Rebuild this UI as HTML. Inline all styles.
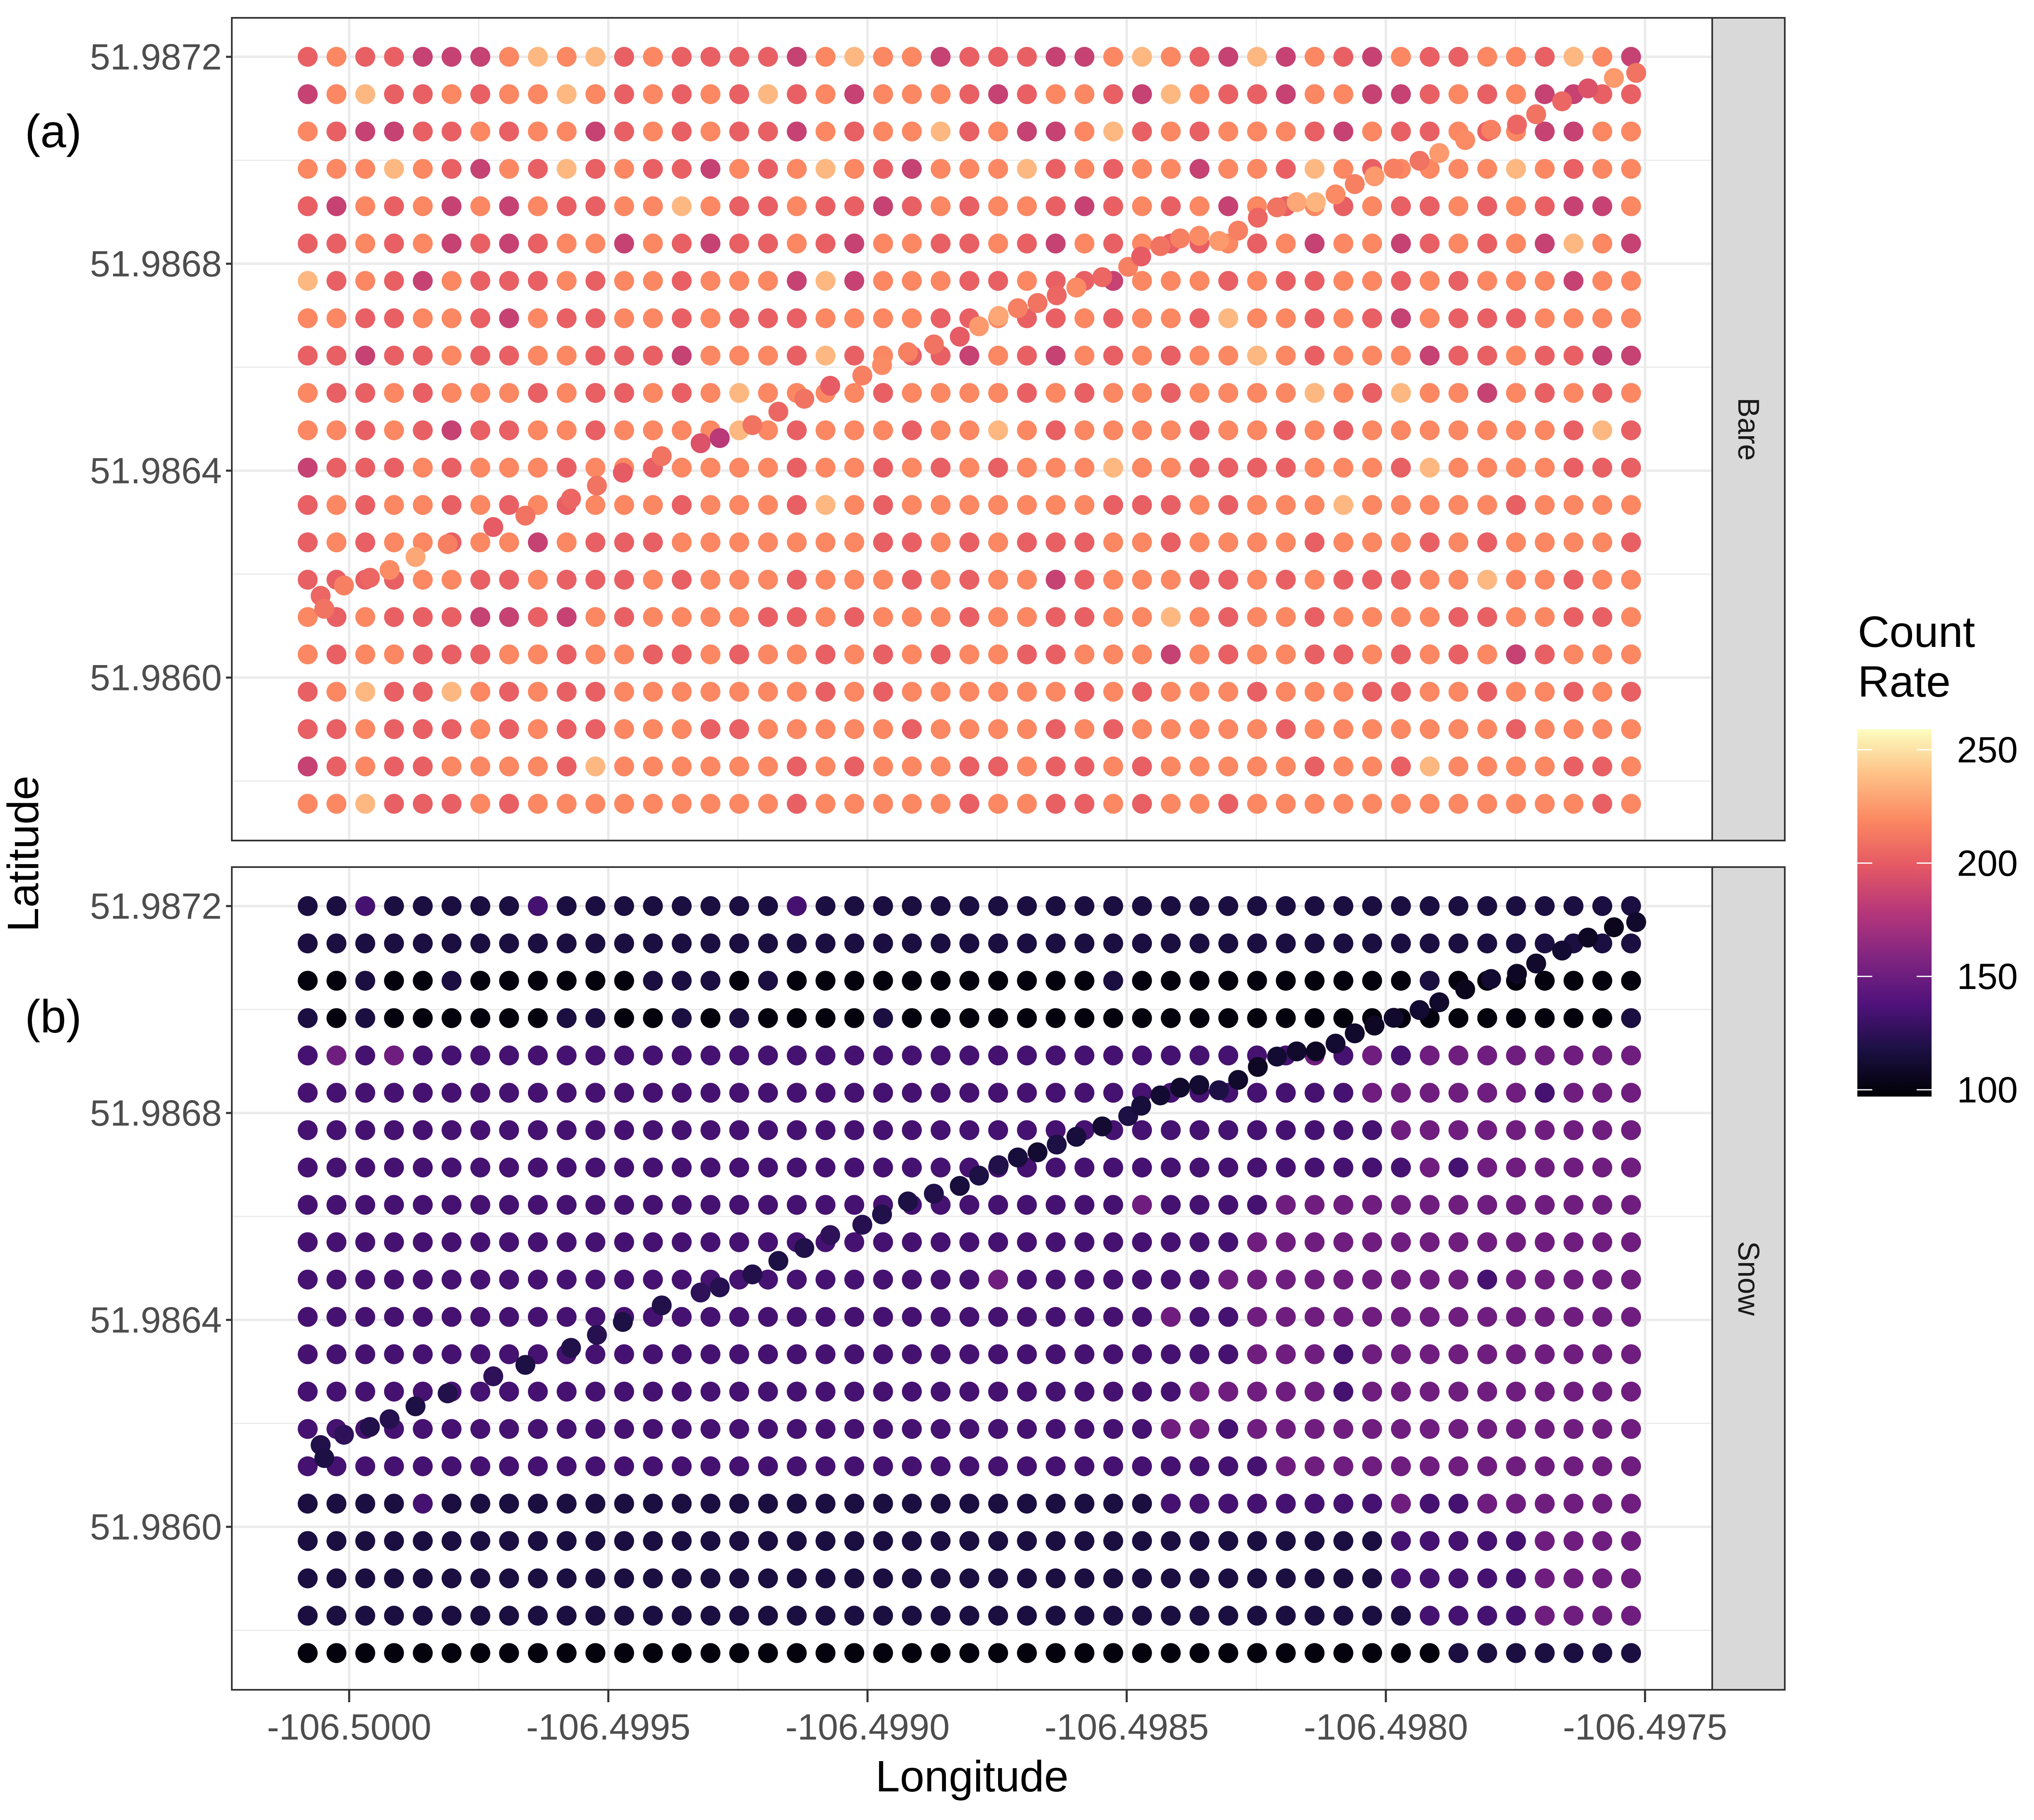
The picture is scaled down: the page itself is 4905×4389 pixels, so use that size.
<!DOCTYPE html>
<html><head><meta charset="utf-8">
<style>
html,body{margin:0;padding:0;background:#fff}
svg{display:block}
text{font-family:"Liberation Sans",Arial,sans-serif}
</style></head>
<body>
<svg id="chart" width="4905" height="4389" viewBox="0 0 4905 4389" xmlns="http://www.w3.org/2000/svg">
<defs>
<linearGradient id="magma" x1="0" y1="1" x2="0" y2="0">
<stop offset="0" stop-color="#000004"/><stop offset="0.13" stop-color="#1c1044"/><stop offset="0.25" stop-color="#4f127b"/><stop offset="0.38" stop-color="#812581"/><stop offset="0.5" stop-color="#b5367a"/><stop offset="0.63" stop-color="#e55964"/><stop offset="0.75" stop-color="#fb8761"/><stop offset="0.88" stop-color="#fec287"/><stop offset="1" stop-color="#fcfdbf"/>
</linearGradient>
</defs>
<g id="root"></g>
</svg>
<script>
// ---- data ----
const xTicks = [-106.5000, -106.4995, -106.4990, -106.4985, -106.4980, -106.4975];
const xTickLabels = ["-106.5000","-106.4995","-106.4990","-106.4985","-106.4980","-106.4975"];
const yTicks = [51.9860, 51.9864, 51.9868, 51.9872];
const yTickLabels = ["51.9860","51.9864","51.9868","51.9872"];
const legendTicks = [100, 150, 200, 250];
const panels = ["Bare", "Snow"];
const panelTags = ["(a)", "(b)"];
const gridLonStart = -106.50008;
const gridLonStep = 0.0000555;
const gridLatStart = 51.98720;
const gridLatStep = 0.0000722;
// digit d -> count rate 100 + 17*d
const bareRows = [
"67665557878676666578775666557876585765766776875",
"57866767787676768675777656776587665775567675566",
"76556676775676766576778675578676777657667675577",
"77787657686766576787657778676775776876777787677",
"65767575766778766766567677656767576767667676557",
"66767565677576566765776676576766767577567675875",
"86765766676776777585777667665777676677676777577",
"77667765766776766677776676676776877676576667777",
"66566766776665777686766576576767787677756676655",
"76676777676676787777677776767767777876877576767",
"77676566776777787677767787677776776767777777686",
"56667677767767777677676767778776666777687777666",
"67677676767776777687677777776667677787777767777",
"67677677576667777777667676667767777677767677776",
"66667766766676777677767677567776676766677877677",
"76766655657677776676777677667787677677776677667",
"76776667767766767767676776677757677667676756777",
"67866876766777777767677777767677767776677677676",
"66766676766777667777767777676777776777777767777",
"56766777768777777676777667667677777677687777667",
"77866676777777777677777677667677677777777777767"
];
const snowRows = [
"11211111211111111211111111111111111111111111111",
"11111111111111111111111111111111111111111111111",
"00100100000011101000000000001000000000010000000",
"10100000011001010000100000000000000000000000001",
"23232222222222222222222222222222222323233333333",
"22222222222222222222222222222222222223333332333",
"22222222222222222222222222222222222222333333333",
"22222222222222222222222222222222222222232333333",
"22222222222222222222222222222322223333333333333",
"22222222222222222222222222222222233333333333333",
"22222222222222222222222232222222333333333233333",
"22222222222222222222222222222232233333333333333",
"22222222222222222222222222222222233323333333333",
"22222222222222222222222222222223333323333333333",
"22222222222222222222222222222233233333333333333",
"22222222222222222222222222222222223333333333333",
"11112111111111111111111111111122222222322333333",
"11111111111111111111111111111111111111222223333",
"11111111111111111111111111111111111111222223333",
"11111111111111111111111111111111111111122223333",
"00000000000000000000000000000000000000001111111"
];
// diagonal transect: offsets from -106.5 / 51.9860 in micro-degrees
const diagLon = [-55,-48,-10,40,78,128,190,278,340,428,478,528,603,678,715,778,828,878,928,990,1028,1078,1128,1178,1215,1253,1290,1328,1365,1403,1453,1503,1528,1565,1603,1640,1678,1715,1753,1790,1828,1865,1903,1940,1978,2015,2065,2103,2153,2203,2253,2290,2340,2390,2440,2483];
const diagLat = [158,133,178,193,208,233,258,291,313,346,371,396,428,453,463,488,514,539,564,584,604,629,644,659,679,699,714,724,739,754,774,794,814,834,849,854,844,864,889,909,919,919,934,954,969,984,999,1014,1039,1059,1069,1089,1114,1139,1159,1169];
const diagBare = [205,210,215,205,220,230,215,200,210,205,210,200,210,195,180,210,205,210,200,215,220,215,210,200,225,230,215,210,205,220,205,215,200,210,215,220,225,215,205,210,230,235,220,215,225,215,210,225,220,215,205,210,205,195,225,210];
const diagSnow = [120,118,125,120,122,118,120,125,118,120,122,118,120,125,122,120,118,120,125,122,120,118,120,115,118,120,115,112,118,115,112,118,115,112,110,112,118,110,108,112,110,108,112,110,108,110,112,110,105,112,108,110,112,108,105,110];

// ---- layout ----
const PX0 = 559, PX1 = 4129;
const panelY = [[43, 2027], [2091, 4075]];
const xScale = lon => 842 + (lon + 106.5) / 0.0005 * 625;
const yScale = (lat, p) => panelY[p][0] + 94 + (51.9872 - lat) / 0.0004 * 499;
const cmin = 97, cmax = 259;
const stops = [[0,[0,0,4]],[0.13,[28,16,68]],[0.25,[79,18,123]],[0.38,[129,37,129]],[0.5,[181,54,122]],[0.63,[229,89,100]],[0.75,[251,135,97]],[0.88,[254,194,135]],[1,[252,253,191]]];
function magma(v){
  let t = Math.max(0, Math.min(1, (v - cmin) / (cmax - cmin)));
  for (let i = 1; i < stops.length; i++) {
    if (t <= stops[i][0]) {
      const a = stops[i-1], b = stops[i], f = (t - a[0]) / (b[0] - a[0]);
      const c = a[1].map((x, k) => Math.round(x + (b[1][k] - x) * f));
      return `rgb(${c[0]},${c[1]},${c[2]})`;
    }
  }
  return "rgb(252,253,191)";
}
const NS = "http://www.w3.org/2000/svg";
const root = document.getElementById("root");
function mk(tag, attrs, parent){
  const e = document.createElementNS(NS, tag);
  for (const k in attrs) e.setAttribute(k, attrs[k]);
  (parent || root).appendChild(e);
  return e;
}

panels.forEach((name, p) => {
  const [y0, y1] = panelY[p];
  const g = mk("g", {});
  
  
  mk("rect", {x: PX0, y: y0, width: PX1 - PX0, height: y1 - y0, fill: "#fff"}, g);
  for (let i = 0; i < xTicks.length - 1; i++) {
    const x = xScale((xTicks[i] + xTicks[i+1]) / 2);
    mk("line", {x1: x, x2: x, y1: y0, y2: y1, stroke: "#ebebeb", "stroke-width": 3}, g);
  }
  const ym = [51.9858, 51.9862, 51.9866, 51.9870];
  ym.forEach(l => { const y = yScale(l, p); mk("line", {x1: PX0, x2: PX1, y1: y, y2: y, stroke: "#ebebeb", "stroke-width": 3}, g); });
  xTicks.forEach(t => { const x = xScale(t); mk("line", {x1: x, x2: x, y1: y0, y2: y1, stroke: "#ebebeb", "stroke-width": 6}, g); });
  yTicks.forEach(t => { const y = yScale(t, p); mk("line", {x1: PX0, x2: PX1, y1: y, y2: y, stroke: "#ebebeb", "stroke-width": 6}, g); });
  const rows = p === 0 ? bareRows : snowRows;
  rows.forEach((row, r) => {
    const lat = gridLatStart - r * gridLatStep;
    for (let i = 0; i < row.length; i++) {
      const v = 100 + 17 * (+row[i]);
      const lon = gridLonStart + i * gridLonStep;
      const c = mk("circle", {cx: xScale(lon).toFixed(1), cy: yScale(lat, p).toFixed(1), r: 24, fill: magma(v)}, g);
      
      
    }
  });
  const dv = p === 0 ? diagBare : diagSnow;
  diagLon.forEach((lo, i) => {
    const lon = -106.5 + lo * 1e-6, lat = 51.9860 + diagLat[i] * 1e-6;
    const c = mk("circle", {cx: xScale(lon).toFixed(1), cy: yScale(lat, p).toFixed(1), r: 24, fill: magma(dv[i])}, g);
    
    
  });
  mk("rect", {x: PX0, y: y0, width: PX1 - PX0, height: y1 - y0, fill: "none", stroke: "#333", "stroke-width": 4}, g);
  const s = mk("rect", {x: PX1, y: y0, width: 175, height: y1 - y0, fill: "#d9d9d9", stroke: "#333", "stroke-width": 4});
  
  
  const st = mk("text", {x: PX1 + 87, y: (y0 + y1) / 2, "font-size": 72, fill: "#1a1a1a", "text-anchor": "middle", "dominant-baseline": "central", transform: `rotate(90 ${PX1 + 87} ${(y0 + y1) / 2})`});
  st.textContent = name;
  
  
  yTicks.forEach((t, i) => {
    const y = yScale(t, p);
    mk("line", {x1: PX0 - 14, x2: PX0, y1: y, y2: y, stroke: "#333", "stroke-width": 5});
    const tl = mk("text", {x: PX0 - 24, y: y, "font-size": 88, fill: "#4d4d4d", "text-anchor": "end", "dominant-baseline": "central"});
    tl.textContent = yTickLabels[i];
    
    
  });
  const tag = mk("text", {x: 60, y: p === 0 ? 355 : 2490, "font-size": 112, fill: "#000"});
  tag.textContent = panelTags[p];
  
  
});

xTicks.forEach((t, i) => {
  const x = xScale(t);
  mk("line", {x1: x, x2: x, y1: 4075, y2: 4105, stroke: "#333", "stroke-width": 5});
  const tl = mk("text", {x: x, y: 4195, "font-size": 88, fill: "#4d4d4d", "text-anchor": "middle"});
  tl.textContent = xTickLabels[i];
  
  
});
const xt = mk("text", {x: 2344, y: 4320, "font-size": 106, fill: "#000", "text-anchor": "middle"});
xt.textContent = "Longitude";


const yt = mk("text", {x: 92, y: 2059, "font-size": 106, fill: "#000", "text-anchor": "middle", transform: "rotate(-90 92 2059)"});
yt.textContent = "Latitude";



const LX = 4479, LW = 179;
const ly = v => 2628 - (v - 100) / 150 * 820;
const lt1 = mk("text", {x: 4480, y: 1560, "font-size": 106, fill: "#000"}); lt1.textContent = "Count";
 
const lt2 = mk("text", {x: 4480, y: 1680, "font-size": 106, fill: "#000"}); lt2.textContent = "Rate";
 
const bar = mk("rect", {x: LX, y: ly(cmax), width: LW, height: ly(cmin) - ly(cmax), fill: "url(#magma)"});
 
legendTicks.forEach(v => {
  const y = ly(v);
  mk("line", {x1: LX, x2: LX + 36, y1: y, y2: y, stroke: "#fff", "stroke-width": 3});
  mk("line", {x1: LX + LW - 36, x2: LX + LW, y1: y, y2: y, stroke: "#fff", "stroke-width": 3});
  const t = mk("text", {x: 4866, y: y, "font-size": 88, fill: "#000", "text-anchor": "end", "dominant-baseline": "central"});
  t.textContent = String(v);
   
});
</script>
</body></html>
